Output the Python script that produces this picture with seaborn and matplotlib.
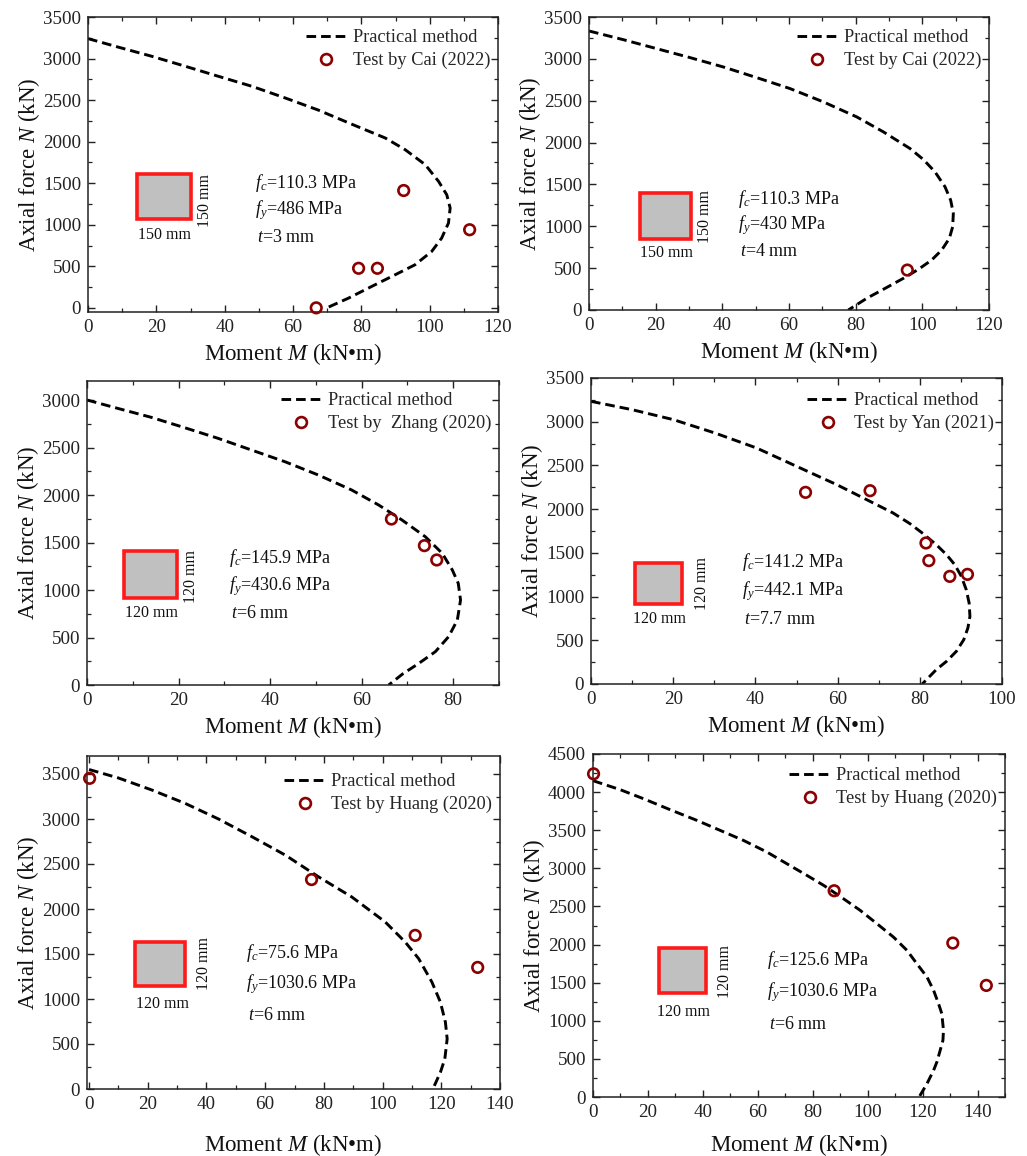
import numpy as np
import pandas as pd
import matplotlib
matplotlib.use("Agg")
import matplotlib.pyplot as plt
from matplotlib.lines import Line2D
from matplotlib.patches import Rectangle
from matplotlib.ticker import MultipleLocator
import seaborn as sns

# ---------------- data ----------------
# Panel 1
p1_curve_M = [0, 8.9, 18.6, 28.4, 38.1, 47.9, 57.7, 67.4, 77.2, 87.0, 92.8, 98.7, 102.6, 105.0, 106.0,
              105.5, 103.5, 100.6, 95.7, 89.9, 83.0, 76.2, 69.9]
p1_curve_N = [3240, 3137, 3028, 2908, 2787, 2667, 2526, 2380, 2210, 2044, 1904, 1723, 1522, 1361, 1201,
              1020, 839, 679, 518, 398, 257, 116, 0]
p1_test_M = [66.8, 79.2, 84.7, 92.4, 111.7]
p1_test_N = [0, 476, 476, 1412, 940]
# Panel 2
p2_curve_M = [0, 10.3, 20.3, 30.3, 40.3, 50.3, 60.3, 70.3, 80.3, 88.3, 96.3, 100.3, 103.8, 106.8, 108.5,
              109.3, 109.1, 108.1, 105.8, 102.8, 98.8, 94.3, 88.3, 83.3, 77.8]
p2_curve_N = [3333, 3229, 3122, 3015, 2903, 2776, 2645, 2486, 2307, 2128, 1929, 1798, 1650, 1472, 1312,
              1153, 994, 855, 716, 597, 485, 378, 247, 139, 0]
p2_test_M = [95.5]
p2_test_N = [477]
# Panel 3
p3_curve_M = [0, 6.7, 14.0, 21.3, 28.6, 35.9, 43.2, 50.5, 57.8, 63.7, 68.8, 73.9, 77.6, 79.8, 81.1,
              81.6, 80.9, 79.0, 76.1, 72.5, 69.0, 65.9]
p3_curve_N = [3000, 2912, 2818, 2709, 2597, 2474, 2351, 2211, 2053, 1895, 1737, 1561, 1386, 1211, 1070,
              895, 684, 509, 351, 228, 118, 0]
p3_test_M = [66.5, 73.7, 76.4]
p3_test_N = [1747, 1467, 1316]
# Panel 4
p4_curve_M = [0, 9.96, 20.1, 30.2, 40.3, 50.0, 59.8, 69.5, 73.5, 77.6, 80.8, 84.0, 86.5, 88.5, 90.1,
              91.3, 92.0, 92.2, 91.7, 90.7, 88.9, 86.5, 84.0, 80.6]
p4_curve_N = [3233, 3138, 3023, 2870, 2699, 2490, 2280, 2051, 1956, 1834, 1720, 1594, 1479, 1365, 1232,
              1079, 927, 774, 641, 507, 374, 259, 164, 0]
p4_test_M = [52.2, 67.9, 81.5, 82.2, 87.3, 91.6]
p4_test_N = [2192, 2211, 1613, 1411, 1231, 1254]
# Panel 5
p5_curve_M = [0, 10.0, 21.4, 32.7, 44.1, 55.5, 66.9, 78.2, 89.5, 100.9, 107.7, 112.3, 116.8, 119.7,
              121.4, 122.0, 121.2, 119.7, 117.4, 117.2]
p5_curve_N = [3550, 3456, 3322, 3174, 3000, 2803, 2598, 2357, 2134, 1856, 1633, 1448, 1188, 965,
              742, 557, 334, 186, 19, 0]
p5_test_M = [0.2, 75.8, 111.1, 132.4]
p5_test_N = [3452, 2327, 1707, 1351]
# Panel 6
p6_curve_M = [0, 9.9, 18.4, 28.1, 37.9, 46.3, 54.8, 63.3, 70.6, 77.9, 84.0, 91.2, 97.3, 103.4, 109.4,
              114.3, 117.9, 121.6, 124.0, 125.8, 127.0, 127.6, 127.4, 126.4, 125.2, 124.0, 121.6, 119.1, 118.8]
p6_curve_N = [4150, 4032, 3913, 3769, 3628, 3498, 3366, 3214, 3060, 2907, 2776, 2601, 2448, 2273, 2098,
              1924, 1749, 1574, 1399, 1224, 1093, 874, 743, 612, 459, 350, 175, 22, 0]
p6_test_M = [0.2, 87.8, 131, 143.2]
p6_test_N = [4240, 2706, 2020, 1464]

test_labels = ["Test by Cai (2022)", "Test by Cai (2022)", "Test by  Zhang (2020)",
               "Test by Yan (2021)", "Test by Huang (2020)", "Test by Huang (2020)"]
fc_vals = ["110.3", "110.3", "145.9", "141.2", "75.6", "125.6"]
fy_vals = ["486", "430", "430.6", "442.1", "1030.6", "1030.6"]
t_vals = ["3", "4", "6", "7.7", "6", "6"]
size_labels = ["150 mm", "150 mm", "120 mm", "120 mm", "120 mm", "120 mm"]

# ---------------- style ----------------
sns.set_style("ticks")
plt.rcParams['font.family'] = ['Liberation Serif', 'DejaVu Serif']
plt.rcParams['mathtext.fontset'] = 'custom'
plt.rcParams['mathtext.rm'] = 'Liberation Serif'
plt.rcParams['mathtext.it'] = 'Liberation Serif:italic'
plt.rcParams['axes.edgecolor'] = '#222222'
plt.rcParams['axes.linewidth'] = 1.1

W, H = 1027, 1156
fig = plt.figure(figsize=(W / 100, H / 100), dpi=100)
fig.patch.set_facecolor('white')


def rect(l, r, t, b):
    return [l / W, 1 - b / H, (r - l) / W, (b - t) / H]


panels = [
    dict(pos=(88, 498, 17, 312), xlim=(0, 120), ylim=(-50, 3500), xmaj=20, ymaj=500, ytop=3500,
         box=(0.120, 0.250, 0.314, 0.467), below=(0.187, 0.26), side=(0.285, 0.378),
         txt=(0.407, 0.437, 0.347, 0.251), xlpad=4, legtop=12),
    dict(pos=(589, 989, 17, 310), xlim=(0, 120), ylim=(0, 3500), xmaj=20, ymaj=500, ytop=3500,
         box=(0.127, 0.256, 0.244, 0.398), below=(0.194, 0.193), side=(0.290, 0.32),
         txt=(0.373, 0.38, 0.29, 0.20), xlpad=4, legtop=12),
    dict(pos=(87, 499, 381, 685), xlim=(0, 90), ylim=(0, 3200), xmaj=20, ymaj=500, ytop=3000,
         box=(0.090, 0.218, 0.285, 0.441), below=(0.156, 0.238), side=(0.253, 0.356),
         txt=(0.345, 0.419, 0.326, 0.234), xlpad=4, legtop=11),
    dict(pos=(591, 1002, 378, 684), xlim=(0, 100), ylim=(0, 3500), xmaj=20, ymaj=500, ytop=3500,
         box=(0.106, 0.221, 0.261, 0.395), below=(0.167, 0.212), side=(0.270, 0.33),
         txt=(0.367, 0.398, 0.303, 0.212), xlpad=4, legtop=14),
    dict(pos=(87, 500, 756, 1089), xlim=(-0.7, 140), ylim=(0, 3700), xmaj=20, ymaj=500, ytop=3500,
         box=(0.117, 0.237, 0.309, 0.442), below=(0.182, 0.255), side=(0.283, 0.377),
         txt=(0.386, 0.407, 0.314, 0.222), xlpad=14, legtop=17),
    dict(pos=(593, 1005, 754, 1097), xlim=(0, 150), ylim=(0, 4500), xmaj=20, ymaj=500, ytop=4500,
         box=(0.161, 0.274, 0.302, 0.433), below=(0.220, 0.248), side=(0.321, 0.365),
         txt=(0.422, 0.399, 0.306, 0.212), xlpad=8, legtop=13),
]

curves = [(p1_curve_M, p1_curve_N), (p2_curve_M, p2_curve_N), (p3_curve_M, p3_curve_N),
          (p4_curve_M, p4_curve_N), (p5_curve_M, p5_curve_N), (p6_curve_M, p6_curve_N)]
tests = [(p1_test_M, p1_test_N), (p2_test_M, p2_test_N), (p3_test_M, p3_test_N),
         (p4_test_M, p4_test_N), (p5_test_M, p5_test_N), (p6_test_M, p6_test_N)]

red = '#8B0000'
dash = (0, (3.3, 1.7))

for i, p in enumerate(panels):
    ax = fig.add_axes(rect(*p['pos']))
    cm, cn = curves[i]
    tm, tn = tests[i]
    dfc = pd.DataFrame({'M': cm, 'N': cn})
    dft = pd.DataFrame({'M': tm, 'N': tn})
    sns.lineplot(data=dfc, x='M', y='N', sort=False, estimator=None, ax=ax,
                 color='black', linewidth=2.1, linestyle=dash)
    sns.scatterplot(data=dft, x='M', y='N', ax=ax, marker='o', s=58,
                    facecolors='none', edgecolors=red, linewidths=1.9, zorder=5, clip_on=False)
    ax.set_xlim(*p['xlim'])
    ax.set_ylim(*p['ylim'])
    ax.set_xticks(np.arange(0, p['xlim'][1] + 0.1, p['xmaj']))
    ax.xaxis.set_minor_locator(MultipleLocator(p['xmaj'] / 2))
    ax.set_yticks(np.arange(0, p['ytop'] + 1, p['ymaj']))
    ax.yaxis.set_minor_locator(MultipleLocator(p['ymaj'] / 2))
    ax.tick_params(which='both', direction='in', top=True, right=True, labelsize=13.7,
                   colors='#222222', labelcolor='#222222')
    ax.tick_params(which='major', length=5, width=1.0, pad=5)
    ax.tick_params(which='minor', length=3, width=0.9)
    ax.set_xlabel('Moment $M$ (kN\u2022m)', fontsize=16.5, labelpad=p['xlpad'], color='#111111')
    ax.set_ylabel('Axial force $N$ (kN)', fontsize=16.5, labelpad=1, color='#111111')
    for s in ax.spines.values():
        s.set_visible(True)

    # legend
    wpx = p['pos'][1] - p['pos'][0]
    hpx = p['pos'][3] - p['pos'][2]
    handles = [Line2D([], [], color='black', lw=2.1, linestyle=dash),
               Line2D([], [], color=red, marker='o', markersize=7.8, markerfacecolor='none',
                      markeredgewidth=1.9, linestyle='none')]
    ax.legend(handles, ['Practical method', test_labels[i]], loc='upper right', frameon=False,
              fontsize=13.2, handlelength=2.2, handletextpad=0.35, labelspacing=0.32,
              borderaxespad=0.0, borderpad=0.0,
              bbox_to_anchor=(1 - 8 / wpx, 1 - p['legtop'] / hpx))

    # section inset
    x0, x1, y0, y1 = p['box']
    ax.add_patch(Rectangle((x0, y0), x1 - x0, y1 - y0, transform=ax.transAxes,
                           facecolor='#c0c0c0', edgecolor='#ff1a1a', linewidth=2.6, zorder=3))
    ax.text(p['below'][0], p['below'][1], size_labels[i], transform=ax.transAxes,
            ha='center', va='center', fontsize=11.5, color='#111111')
    ax.text(p['side'][0], p['side'][1], size_labels[i], transform=ax.transAxes,
            ha='center', va='center', fontsize=11.5, rotation=90, color='#111111')
    tx, yc, yy, yt = p['txt']
    ax.text(tx, yc, '$f_c$=' + fc_vals[i] + ' MPa', transform=ax.transAxes,
            ha='left', va='center', fontsize=13, color='#111111')
    ax.text(tx, yy, '$f_y$=' + fy_vals[i] + ' MPa', transform=ax.transAxes,
            ha='left', va='center', fontsize=13, color='#111111')
    ax.text(tx + 0.005, yt, '$t$=' + t_vals[i] + ' mm', transform=ax.transAxes,
            ha='left', va='center', fontsize=13, color='#111111')

fig.savefig('out.png', dpi=100, facecolor='white')
